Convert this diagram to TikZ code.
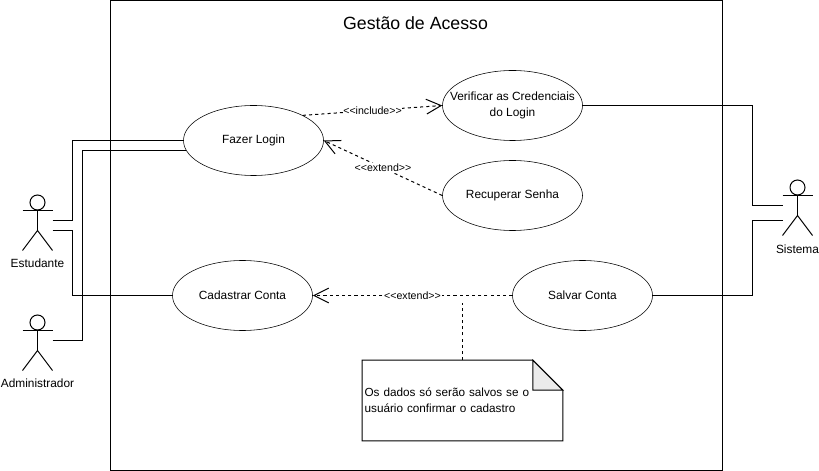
\documentclass[tikz,border=0pt]{standalone}
\usepackage{fontspec}
\setmainfont{Liberation Sans}
\usetikzlibrary{arrows.meta,shapes.geometric,calc}
\tikzstyle{caso}=[ellipse, draw, inner xsep=-0.4cm, inner ysep=0pt, minimum width=3.5cm, minimum height=1.75cm, align=center, font=\fontsize{8.45}{11.4}\selectfont]
\tikzstyle{rot}=[fill=white, inner sep=0.5pt, font=\fontsize{7.55}{9}\selectfont]
\tikzstyle{nome}=[font=\fontsize{8.45}{11}\selectfont]
\tikzstyle{assoc}=[line width=0.71pt]
\tikzstyle{dep}=[line width=0.71pt, dash pattern=on 2.2pt off 2.2pt, -{Straight Barb[length=10.5pt,width=10.5pt,line width=0.71pt]}]
\tikzset{ator/.pic={
\draw[assoc] (0,-23) circle (7.5);
\draw[assoc] (0,-15.5) -- (0,5);
\draw[assoc] (-15,-15) -- (15,-15);
\draw[assoc] (-15,25) -- (0,5) -- (15,25);
\coordinate (-a) at (15,-5);
\coordinate (-b) at (15,5);
\coordinate (-c) at (-15,-5);
\coordinate (-d) at (-15,10);
}}

\begin{document}
\begin{tikzpicture}[x=0.025cm, y=-0.025cm]
\useasboundingbox (-0.5,-0.5) rectangle (818.5,470.5);

\node[draw, line width=0.71pt, minimum width=15.3cm, minimum height=11.75cm, inner sep=0pt] (sistema) at (416,235) {};
\node[font=\fontsize{12.6}{15}\selectfont] (titulo) at (415,23) {Gestão de Acesso};

\node[caso] (login) at (253,140) {Fazer Login};
\node[caso] (cadastrar) at (242,295) {Cadastrar Conta};
\node[caso] (verificar) at (512,105) {Verificar as Credenciais\\do Login};
\node[caso] (recuperar) at (512,195) {Recuperar Senha};
\node[caso] (salvar) at (582,295) {Salvar Conta};

\pic (est) at (37,225) {ator};
\pic (adm) at (37,345) {ator};
\pic (sis) at (797,210) {ator};
\node[nome] (lest) at (37,263) {Estudante};
\node[nome] (ladm) at (37,383) {Administrador};
\node[nome] (lsis) at (797,249) {Sistema};

\coordinate (loginb) at (185,150);
\draw[assoc] (est-a) -- ++(20,0) |- (login.west);
\draw[assoc] (est-b) -- ++(20,0) |- (cadastrar.west);
\draw[assoc] (adm-a) -- (82,340) |- (loginb);
\draw[assoc] (verificar.east) -- (752,105) |- (sis-c);
\draw[assoc] (salvar.east) -- (752,295) |- (sis-d);

\draw[dep] (login.27) -- (verificar.west) node[rot, midway] (linclude) {<{}<include>{}>};
\draw[dep] (recuperar.west) -- (login.east) node[rot, midway] (lextend) {<{}<extend>{}>};
\draw[dep] (salvar.west) -- (cadastrar.east) node[rot, midway] (lextend2) {<{}<extend>{}>};

\node[inner sep=1.5pt, minimum height=2cm, text width=4.894cm, align=left, font=\fontsize{8.35}{11.2}\selectfont] (nota) at (462,400) {Os dados só serão salvos se o\\usuário confirmar o cadastro};
\draw[line width=0.71pt] (nota.north west) -- ($(nota.north east)+(-30,0)$) -- ($(nota.north east)+(0,30)$) -- (nota.south east) -- (nota.south west) -- cycle;
\draw[line width=0.71pt, fill=black!8] ($(nota.north east)+(-30,0)$) -- ($(nota.north east)+(0,30)$) -- ($(nota.north east)+(-30,30)$) -- cycle;
\coordinate (notafim) at (462,302);
\draw[line width=0.71pt, dash pattern=on 2.2pt off 2.2pt] (nota.north) -- (notafim);

\end{tikzpicture}
\end{document}
